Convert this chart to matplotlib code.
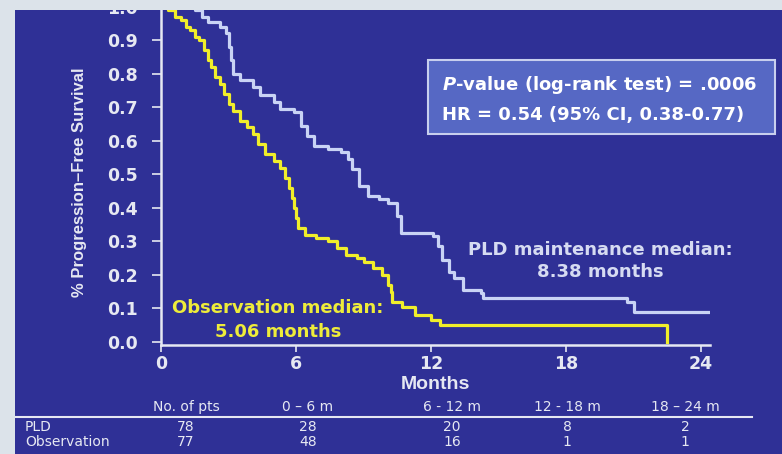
import matplotlib
matplotlib.use("Agg")
import matplotlib.pyplot as plt
from matplotlib.patches import Rectangle
from matplotlib.lines import Line2D

# Kaplan-Meier estimates (months, progression-free fraction)
pld_t = [0, 1.5, 1.8, 2.1, 2.6, 2.9, 3.0, 3.1, 3.2, 3.5, 4.1, 4.4, 5.0, 5.3, 5.9,
         6.2, 6.5, 6.8, 7.4, 8.0, 8.3, 8.5, 8.8, 9.2, 9.7, 10.1, 10.5, 10.65,
         12.1, 12.3, 12.5, 12.8, 13.0, 13.4, 14.2, 14.3, 20.7, 21.0, 24.4]
pld_s = [1.0, 0.99, 0.97, 0.955, 0.94, 0.92, 0.88, 0.84, 0.80, 0.78, 0.76, 0.735,
         0.715, 0.695, 0.685, 0.645, 0.615, 0.585, 0.575, 0.565, 0.545, 0.515,
         0.465, 0.435, 0.425, 0.415, 0.375, 0.325, 0.315, 0.285, 0.245, 0.21,
         0.19, 0.155, 0.145, 0.13, 0.12, 0.09, 0.09]

obs_t = [0, 0.3, 0.6, 0.9, 1.1, 1.3, 1.5, 1.7, 1.9, 2.1, 2.2, 2.4, 2.6, 2.8, 3.0,
         3.2, 3.5, 3.8, 4.1, 4.3, 4.6, 5.0, 5.3, 5.5, 5.7, 5.8, 5.9, 6.0, 6.1,
         6.4, 6.9, 7.4, 7.8, 8.2, 8.7, 9.0, 9.4, 9.8, 10.1, 10.2, 10.25, 10.7,
         11.3, 12.0, 12.4, 22.5]
obs_s = [1.0, 0.99, 0.97, 0.96, 0.94, 0.93, 0.91, 0.90, 0.87, 0.84, 0.82, 0.79,
         0.77, 0.74, 0.71, 0.69, 0.66, 0.64, 0.62, 0.59, 0.56, 0.54, 0.52, 0.49,
         0.46, 0.43, 0.40, 0.37, 0.34, 0.32, 0.31, 0.30, 0.28, 0.26, 0.25, 0.24,
         0.22, 0.20, 0.17, 0.15, 0.12, 0.105, 0.08, 0.065, 0.05, 0.0]

month_ticks = [0, 6, 12, 18, 24]
surv_ticks = [0.0, 0.1, 0.2, 0.3, 0.4, 0.5, 0.6, 0.7, 0.8, 0.9, 1.0]

# numbers at risk table
intervals = ["0 \u2013 6 m", "6 - 12 m", "12 - 18 m", "18 \u2013 24 m"]
groups = ["PLD", "Observation"]
n_pts = [78, 77]
pld_counts = [28, 20, 8, 2]
obs_counts = [48, 16, 1, 1]

stats_line1 = "$P$-value (log-rank test) = .0006"
stats_line2 = "HR = 0.54 (95% CI, 0.38-0.77)"

BG = "#2f3096"
EDGE = "#dce3ea"
FG = "#e6e8f2"
PLD_C = "#c9d3f5"
OBS_C = "#f0ee2a"
BOLD = "DejaVu Sans"

plt.rcParams["mathtext.fontset"] = "custom"
plt.rcParams["mathtext.it"] = "DejaVu Sans:italic:bold"
plt.rcParams["mathtext.rm"] = "DejaVu Sans:bold"

W, H = 782, 454
fig = plt.figure(figsize=(W / 100, H / 100), dpi=100)
fig.patch.set_facecolor(BG)


def fx(px):
    return px / W


def fy(py):
    return 1 - py / H


ax = fig.add_axes([fx(161), fy(345.4), fx(710) - fx(161), fy(6.5) - fy(345.4)])
ax.set_facecolor(BG)
ax.set_xlim(0, 24.4)
ax.set_ylim(-0.01, 1.0)

ax.step(obs_t, obs_s, where="post", color=OBS_C, lw=2.3, zorder=3)
ax.step(pld_t, pld_s, where="post", color=PLD_C, lw=2.3, zorder=3)

for side in ["top", "right"]:
    ax.spines[side].set_visible(False)
for side in ["left", "bottom"]:
    ax.spines[side].set_color(FG)
    ax.spines[side].set_linewidth(1.8)

ax.set_xticks(month_ticks)
ax.set_yticks(surv_ticks)
ax.set_yticklabels(["%.1f" % v for v in surv_ticks])
ax.tick_params(axis="y", colors=FG, length=6.5, width=1.2, pad=10,
               labelsize=12.5)
ax.tick_params(axis="x", colors=FG, length=5, width=1.2, pad=2,
               labelsize=12.5)
for lab in ax.get_xticklabels() + ax.get_yticklabels():
    lab.set_fontfamily(BOLD)
    lab.set_fontweight("bold")

ax.set_xlabel("Months", color=FG, fontsize=14, fontweight="bold",
              family="Liberation Sans")
ax.xaxis.set_label_coords(0.5, -0.09)
ax.set_ylabel("% Progression\u2013Free Survival", color=FG, fontsize=12,
              fontweight="bold", family="Liberation Sans")
ax.yaxis.set_label_coords(-0.135, 0.48)

# statistics box
fig.patches.append(Rectangle((fx(428), fy(134)), fx(775) - fx(428),
                             fy(60) - fy(134), transform=fig.transFigure,
                             facecolor="#5668c4", edgecolor="#c8cfee",
                             lw=1.5, zorder=5))
fig.text(fx(442), fy(85), stats_line1, color="white", fontsize=13,
         fontweight="bold", family=BOLD, va="center", zorder=6)
fig.text(fx(442), fy(115), stats_line2, color="white", fontsize=13,
         fontweight="bold", family=BOLD, va="center", zorder=6)

# median annotations
mkw = dict(fontsize=13, fontweight="bold", family=BOLD, ha="center",
           va="center")
fig.text(fx(600), fy(250), "PLD maintenance median:", color="#d6dbf2", **mkw)
fig.text(fx(600), fy(272), "8.38 months", color="#d6dbf2", **mkw)
fig.text(fx(278), fy(308), "Observation median:", color="#eeec3a", **mkw)
fig.text(fx(278), fy(332), "5.06 months", color="#eeec3a", **mkw)

# numbers at risk
col_x = [308, 452, 567, 685]
tkw = dict(color=FG, fontsize=10, family="DejaVu Sans", va="center",
           ha="center")
fig.text(fx(186), fy(407), "No. of pts", **tkw)
for x, lab in zip(col_x, intervals):
    fig.text(fx(x), fy(407), lab, **tkw)
fig.lines.append(Line2D([fx(15), fx(752)], [fy(417), fy(417)],
                        transform=fig.transFigure, color=FG, lw=1.5))
rows_y = [427, 442]
for y, name, n, counts in zip(rows_y, groups, n_pts,
                              [pld_counts, obs_counts]):
    fig.text(fx(25), fy(y), name, color=FG, fontsize=10,
             family="DejaVu Sans", va="center", ha="left")
    fig.text(fx(186), fy(y), str(n), **tkw)
    for x, c in zip(col_x, counts):
        fig.text(fx(x), fy(y), str(c), **tkw)

# light frame along the top and left edges
fig.patches.append(Rectangle((0, fy(10)), 1, 1 - fy(10),
                             transform=fig.transFigure, facecolor=EDGE,
                             edgecolor="none", zorder=10))
fig.patches.append(Rectangle((0, 0), fx(15), 1, transform=fig.transFigure,
                             facecolor=EDGE, edgecolor="none", zorder=10))

fig.savefig("out.png", dpi=100, facecolor=fig.get_facecolor())
